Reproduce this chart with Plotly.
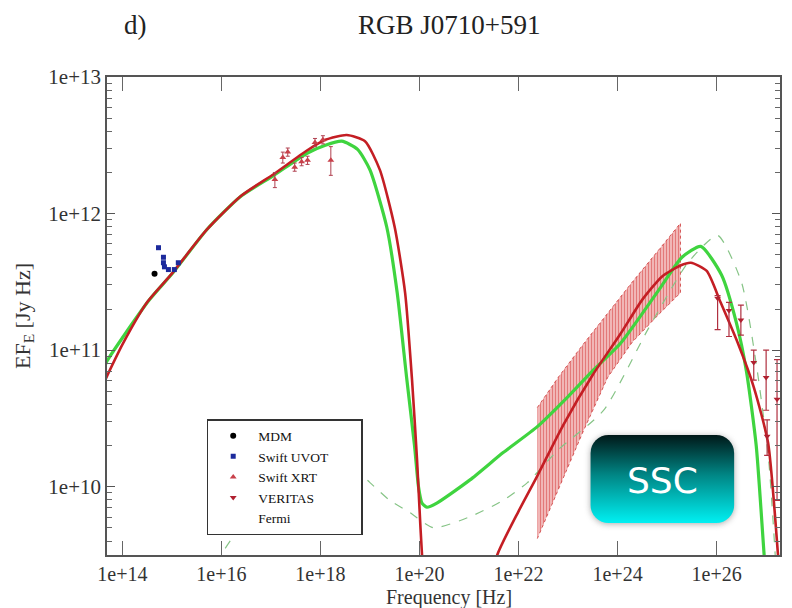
import base64
import plotly.graph_objects as go

# ---------------- data (log10 frequency [Hz], log10 EF_E [Jy Hz]) ----------------
green_lognu = [13.60, 13.69, 14.02, 14.55, 15.03, 15.70, 16.37, 17.06, 17.72, 18.10, 18.43,
               18.75, 19.00, 19.34, 19.55, 19.74, 19.90, 19.98, 20.05, 20.15, 20.35, 21.02,
               21.69, 22.38, 23.00, 23.50, 24.06, 24.87, 25.30, 25.68, 26.10, 26.40, 26.60,
               26.80, 26.96, 27.05]
green_logf = [10.84, 10.92, 11.10, 11.37, 11.57, 11.88, 12.12, 12.28, 12.44, 12.50, 12.53,
              12.47, 12.32, 11.90, 11.42, 10.80, 10.30, 10.00, 9.88, 9.85, 9.88, 10.05,
              10.25, 10.44, 10.66, 10.85, 11.05, 11.46, 11.68, 11.76, 11.55, 11.20, 10.85,
              10.30, 9.50, 9.10]

red_lognu = [13.60, 13.69, 14.00, 14.50, 15.00, 15.70, 16.40, 17.06, 17.72, 18.10, 18.53,
             18.90, 19.20, 19.50, 19.71, 19.85, 19.95, 20.02, 20.07, 20.12, 20.60, 21.00,
             21.30, 21.57, 22.00, 22.38, 22.90, 23.50, 24.06, 24.50, 24.90, 25.27, 25.48,
             25.80, 26.08, 26.43, 26.75, 27.04, 27.24, 27.32]
red_logf = [10.74, 10.81, 11.04, 11.35, 11.56, 11.88, 12.13, 12.29, 12.46, 12.54, 12.575,
            12.53, 12.32, 11.90, 11.42, 10.78, 10.20, 9.70, 9.38, 9.00, 8.40, 8.70,
            9.10, 9.50, 9.82, 10.08, 10.45, 10.82, 11.12, 11.37, 11.54, 11.62, 11.64,
            11.58, 11.35, 11.05, 10.73, 10.32, 9.50, 9.10]

alt_lognu = [15.85, 16.00, 16.40, 17.00, 17.70, 18.40, 19.00, 19.40, 19.81, 20.28, 21.02,
             21.69, 22.18, 22.80, 23.72, 24.61, 25.42, 26.02, 26.50, 26.80, 27.05, 27.20]
alt_logf = [9.30, 9.50, 9.72, 10.05, 10.25, 10.22, 10.03, 9.90, 9.81, 9.70, 9.78,
            9.90, 10.03, 10.27, 10.56, 11.15, 11.64, 11.84, 11.50, 10.90, 10.20, 9.40]

fermi_lognu = [22.38, 22.80, 23.30, 23.80, 24.30, 24.80, 25.27]
fermi_upper = [10.58, 10.80, 11.04, 11.27, 11.50, 11.72, 11.93]
fermi_lower = [9.62, 9.98, 10.40, 10.80, 11.06, 11.25, 11.42]

mdm_lognu = [14.65]
mdm_logf = [11.56]

uvot_lognu = [14.73, 14.83, 14.83, 14.85, 14.93, 15.05, 15.13]
uvot_logf = [11.75, 11.68, 11.64, 11.61, 11.59, 11.59, 11.64]

xrt_lognu = [17.08, 17.24, 17.34, 17.48, 17.62, 17.74, 17.89, 18.05, 18.21]
xrt_logf = [12.25, 12.41, 12.45, 12.34, 12.38, 12.39, 12.52, 12.54, 12.39]
xrt_logf_hi = [12.30, 12.45, 12.48, 12.37, 12.41, 12.42, 12.55, 12.57, 12.49]
xrt_logf_lo = [12.19, 12.37, 12.42, 12.31, 12.35, 12.36, 12.49, 12.51, 12.28]

ver_lognu = [26.02, 26.25, 26.49, 26.75, 27.00, 27.02, 27.22]
ver_logf = [11.38, 11.29, 11.22, 10.91, 10.80, 10.37, 10.64]
ver_logf_hi = [11.40, 11.35, 11.33, 11.00, 11.00, 10.49, 10.93]
ver_logf_lo = [11.15, 11.10, 11.11, 10.78, 10.56, 10.23, 9.90]

x_tick_exp = [14, 16, 18, 20, 22, 24, 26]
y_tick_exp = [10, 11, 12, 13]


def lin(a):
    return [10.0 ** v for v in a]


def err_hi(v, h):
    return [10.0 ** b - 10.0 ** a for a, b in zip(v, h)]


def err_lo(v, l):
    return [10.0 ** a - 10.0 ** b for a, b in zip(v, l)]


SERIF = "Liberation Serif"
GREEN = "#3fd43f"
RED = "#c41e24"
NB = "\u00a0"

fig = go.Figure()

# Fermi bow-tie (hatched)
fig.add_trace(go.Scatter(
    x=lin(fermi_lognu + fermi_lognu[::-1]),
    y=lin(fermi_upper + fermi_lower[::-1]),
    fill="toself", mode="lines",
    line=dict(color="rgba(200,40,40,0.75)", width=1, dash="dot"),
    fillcolor="rgba(230,110,110,0.4)",
    fillpattern=dict(shape="|", fgcolor="#d02828", bgcolor="rgba(235,140,140,0.45)",
                     size=3, solidity=0.5),
    showlegend=False, hoverinfo="skip"))

# alternative model (thin dashed)
fig.add_trace(go.Scatter(x=lin(alt_lognu), y=lin(alt_logf), mode="lines",
                         line=dict(color="#86c486", width=1.2, dash="dash", shape="spline",
                                   smoothing=0.6),
                         showlegend=False, hoverinfo="skip"))

# model curves
fig.add_trace(go.Scatter(x=lin(green_lognu), y=lin(green_logf), mode="lines",
                         line=dict(color=GREEN, width=3.2, shape="spline", smoothing=0.6),
                         showlegend=False, hoverinfo="skip"))
fig.add_trace(go.Scatter(x=lin(red_lognu), y=lin(red_logf), mode="lines",
                         line=dict(color=RED, width=2.6, shape="spline", smoothing=0.6),
                         showlegend=False, hoverinfo="skip"))

# data points
fig.add_trace(go.Scatter(x=lin(mdm_lognu), y=lin(mdm_logf), mode="markers", name="MDM",
                         marker=dict(symbol="circle", size=6, color="black")))
fig.add_trace(go.Scatter(x=lin(uvot_lognu), y=lin(uvot_logf), mode="markers",
                         name="Swift UVOT" + NB * 8,
                         marker=dict(symbol="square", size=5, color="#1c2a9c")))
fig.add_trace(go.Scatter(x=lin(xrt_lognu), y=lin(xrt_logf), mode="markers", name="Swift XRT",
                         marker=dict(symbol="triangle-up", size=6, color="#c8404a"),
                         error_y=dict(type="data", symmetric=False,
                                      array=err_hi(xrt_logf, xrt_logf_hi),
                                      arrayminus=err_lo(xrt_logf, xrt_logf_lo),
                                      color="#b04050", thickness=1, width=2)))
fig.add_trace(go.Scatter(x=lin(ver_lognu), y=lin(ver_logf), mode="markers", name="VERITAS",
                         marker=dict(symbol="triangle-down", size=6, color="#b02030"),
                         error_y=dict(type="data", symmetric=False,
                                      array=err_hi(ver_logf, ver_logf_hi),
                                      arrayminus=err_lo(ver_logf, ver_logf_lo),
                                      color="#b03040", thickness=1.2, width=3)))
fig.add_trace(go.Scatter(x=[None], y=[None], mode="lines", name="Fermi",
                         line=dict(width=0, color="rgba(0,0,0,0)")))

# y minor ticks
y_minor = [m * 10.0 ** e for e in [9, 10, 11, 12] for m in range(2, 10)]

fig.update_xaxes(
    type="log", range=[13.69, 27.28],
    tickvals=[10.0 ** e for e in x_tick_exp],
    ticktext=[f"1e+{e}" for e in x_tick_exp],
    ticks="inside", ticklen=14, tickwidth=1.3, tickcolor="#666",
    showline=True, linecolor="#555", linewidth=1.6, mirror="ticks",
    showgrid=False, zeroline=False,
    tickfont=dict(family=SERIF, size=20, color="#333"),
)
fig.update_yaxes(
    type="log", range=[9.50, 13.0],
    tickvals=[10.0 ** e for e in y_tick_exp],
    ticktext=[f"1e+{e}" for e in y_tick_exp],
    ticks="inside", ticklen=8, tickwidth=1.3, tickcolor="#555",
    minor=dict(tickvals=y_minor, ticks="inside", ticklen=5, tickwidth=1.1, tickcolor="#666"),
    showline=True, linecolor="#555", linewidth=1.6, mirror="ticks",
    showgrid=False, zeroline=False,
    tickfont=dict(family=SERIF, size=21, color="#333"),
    title=dict(text="EF<sub>E</sub> [Jy Hz]", font=dict(family=SERIF, size=22, color="#333"),
               standoff=12),
)

# SSC badge background (gradient rounded box)
svg = ('<svg xmlns="http://www.w3.org/2000/svg" width="160" height="104" viewBox="0 0 160 104">'
       '<defs><linearGradient id="g" x1="0" y1="0" x2="0" y2="1">'
       '<stop offset="0" stop-color="#001818"/><stop offset="0.45" stop-color="#008584"/>'
       '<stop offset="1" stop-color="#00f0f2"/></linearGradient>'
       '<filter id="s" x="-20%" y="-20%" width="140%" height="140%">'
       '<feGaussianBlur stdDeviation="3"/></filter></defs>'
       '<rect x="8" y="9" width="144" height="88" rx="18" fill="#666" opacity="0.55" filter="url(#s)"/>'
       '<rect x="8" y="8" width="144" height="88" rx="18" fill="url(#g)"/></svg>')
src = "data:image/svg+xml;base64," + base64.b64encode(svg.encode()).decode()

PL, PR, PT, PB = 107, 10, 77, 53
PW, PH = 792 - PL - PR, 608 - PT - PB


def px(x):
    return (x - PL) / PW


def py(y):
    return (608 - PB - y) / PH


fig.add_layout_image(dict(source=src, xref="paper", yref="paper",
                          x=px(584), y=py(427), sizex=160 / PW, sizey=104 / PH,
                          xanchor="left", yanchor="top", sizing="stretch", layer="above"))

fig.add_annotation(text="SSC", xref="paper", yref="paper", x=px(664), y=py(480),
                   xanchor="center", yanchor="middle",
                   showarrow=False, font=dict(family="DejaVu Sans", size=36, color="white"))
fig.add_annotation(text="RGB J0710+591", xref="paper", yref="paper", x=px(451), y=py(25),
                   xanchor="center", yanchor="middle",
                   showarrow=False, font=dict(family=SERIF, size=27, color="#222"))
fig.add_annotation(text="d)", xref="paper", yref="paper", x=px(136), y=py(25),
                   xanchor="center", yanchor="middle",
                   showarrow=False, font=dict(family=SERIF, size=27, color="#222"))
fig.add_annotation(text="Frequency [Hz]", xref="paper", yref="paper", x=px(450), y=py(597),
                   xanchor="center", yanchor="middle",
                   showarrow=False, font=dict(family=SERIF, size=20, color="#333"))

fig.update_layout(
    width=792, height=608,
    margin=dict(l=PL, r=PR, t=PT, b=PB),
    paper_bgcolor="white", plot_bgcolor="white",
    legend=dict(x=px(207), y=py(419), xanchor="left", yanchor="top",
                bgcolor="white", bordercolor="#333", borderwidth=1.5,
                font=dict(family=SERIF, size=13.5, color="#111"),
                tracegroupgap=0, itemwidth=40),
)

fig.write_html("out.html")
